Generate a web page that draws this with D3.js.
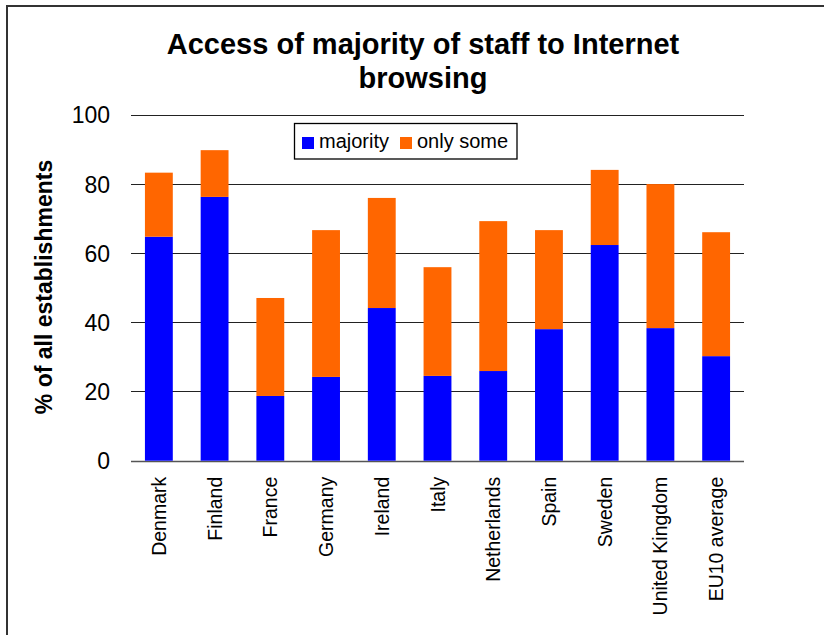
<!DOCTYPE html>
<html>
<head>
<meta charset="utf-8">
<script src="https://cdn.jsdelivr.net/npm/d3@7"></script>
<style>
  html, body { margin: 0; padding: 0; background: #fff; }
  svg { display: block; font-family: "Liberation Sans", Arial, sans-serif; }
</style>
</head>
<body>
<svg id="chart" width="824" height="635"></svg>
<script>
const categories = ["Denmark", "Finland", "France", "Germany", "Ireland", "Italy",
  "Netherlands", "Spain", "Sweden", "United Kingdom", "EU10 average"];
const majority = [64.7, 76.2, 18.7, 24.2, 44.1, 24.5, 25.9, 38.0, 62.3, 38.3, 30.2];
const total    = [83.2, 89.7, 47.0, 66.6, 75.9, 55.9, 69.2, 66.6, 84.0, 79.9, 66.0];
const onlySome = total.map((t, i) => +(t - majority[i]).toFixed(1));
const seriesNames = ["majority", "only some"];
const seriesColors = ["#0000FF", "#FF6600"];
const yTicks = [0, 20, 40, 60, 80, 100];
const titleLines = ["Access of majority of staff to Internet", "browsing"];
const yLabel = "% of all establishments";

const svg = d3.select("#chart");

// outer frame
svg.append("rect").attr("x", 7).attr("y", 6).attr("width", 830).attr("height", 640)
  .attr("fill", "none").attr("stroke", "#333").attr("stroke-width", 2);

const plot = { left: 131, right: 744, top: 114.5, bottom: 460.7 };

const x = d3.scaleBand().domain(categories)
  .range([plot.left, plot.right]).paddingInner(0.5).paddingOuter(0.25);
const y = d3.scaleLinear().domain([0, 100]).range([plot.bottom, plot.top]);

// gridlines
svg.append("g").selectAll("line").data(yTicks).join("line")
  .attr("x1", plot.left).attr("x2", plot.right)
  .attr("y1", d => Math.round(y(d)) + 0.5).attr("y2", d => Math.round(y(d)) + 0.5)
  .attr("stroke", d => d === 0 ? "#555" : "#222").attr("stroke-width", d => d === 0 ? 1.5 : 1);

// y tick labels
const yAxis = d3.axisLeft(y).tickValues(yTicks).tickSize(0).tickPadding(0);
const gy = svg.append("g").attr("transform", `translate(110,0)`).call(yAxis);
gy.select(".domain").remove();
gy.selectAll("text").attr("font-size", 23).attr("fill", "#000")
  .attr("font-family", "Liberation Sans, Arial, sans-serif").attr("dy", "0.36em");

// stacked bars
const rows = categories.map((c, i) => ({ cat: c, majority: majority[i], "only some": onlySome[i] }));
const stack = d3.stack().keys(seriesNames)(rows);
svg.append("g").selectAll("g").data(stack).join("g")
  .attr("fill", (d, i) => seriesColors[i])
  .selectAll("rect").data(d => d).join("rect")
  .attr("x", d => x(d.data.cat))
  .attr("width", x.bandwidth())
  .attr("y", d => y(d[1]))
  .attr("height", d => y(d[0]) - y(d[1]));

// x labels
const xAxis = d3.axisBottom(x).tickSize(0).tickPadding(0);
const gx = svg.append("g").attr("transform", `translate(0,${plot.bottom})`).call(xAxis);
gx.select(".domain").remove();
gx.selectAll("text")
  .attr("font-size", 19.5).attr("fill", "#000")
  .attr("font-family", "Liberation Sans, Arial, sans-serif")
  .attr("text-anchor", "end")
  .attr("transform", "rotate(-90)")
  .attr("x", -16).attr("y", 0).attr("dy", "0.36em");

// title
svg.append("g").selectAll("text").data(titleLines).join("text")
  .attr("x", 423).attr("y", (d, i) => 54 + i * 34)
  .attr("text-anchor", "middle").attr("font-weight", "bold").attr("font-size", 29)
  .attr("fill", "#000").text(d => d);

// y label
svg.append("text")
  .attr("transform", "translate(52,287) rotate(-90)")
  .attr("text-anchor", "middle").attr("font-weight", "bold").attr("font-size", 23)
  .attr("fill", "#000").text(yLabel);

// legend
const lg = svg.append("g");
lg.append("rect").attr("x", 294.5).attr("y", 123.5).attr("width", 222.5).attr("height", 35.5)
  .attr("fill", "#fff").attr("stroke", "#000").attr("stroke-width", 1.3);
const legendX = [302, 400];
seriesNames.forEach((n, i) => {
  lg.append("rect").attr("x", legendX[i]).attr("y", 137).attr("width", 12).attr("height", 12)
    .attr("fill", seriesColors[i]);
  lg.append("text").attr("x", legendX[i] + 17).attr("y", 148)
    .attr("font-size", 20).attr("fill", "#000").text(n);
});
</script>
</body>
</html>
